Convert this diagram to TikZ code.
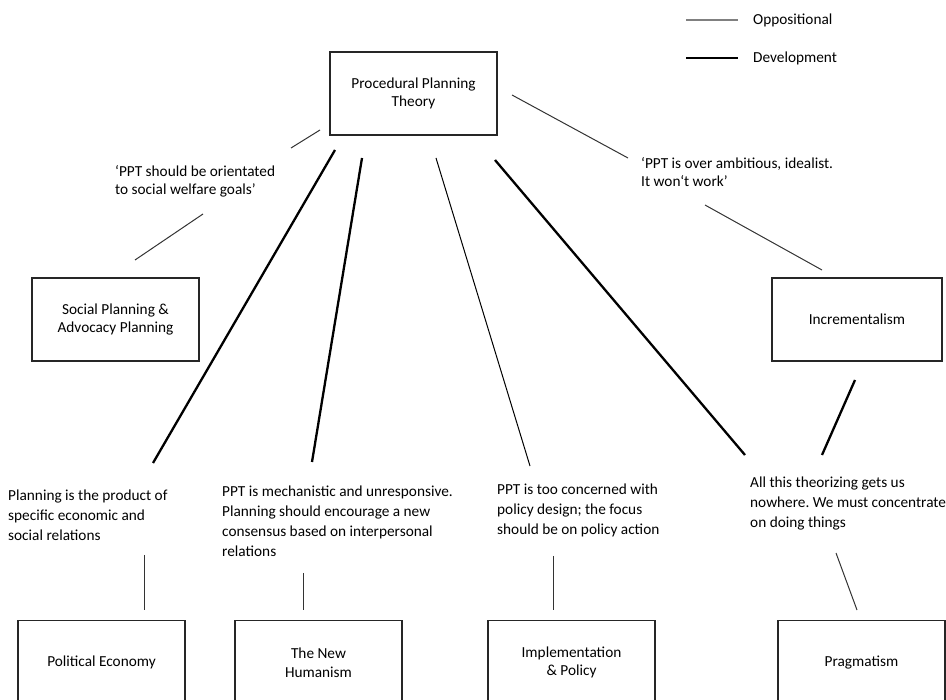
\documentclass[tikz,border=0pt]{standalone}
\usepackage{fontspec}
\setmainfont{Carlito}
\frenchspacing
\begin{document}
\begin{tikzpicture}[x=1pt,y=-1pt,
  box/.style={draw=black!85,line width=1.1pt,minimum width=167pt,minimum height=83pt,align=center,inner sep=2pt,font=\fontsize{15.3}{18.5}\selectfont},
  lbl/.style={anchor=north west,align=left,inner sep=0pt,font=\fontsize{15.3}{20}\selectfont},
  dev/.style={line width=2.3pt,black},
  devthin/.style={line width=1pt,black},
  opp/.style={line width=1pt,black!80},
  leg/.style={anchor=west,inner sep=0pt,font=\fontsize{15.3}{18}\selectfont}]
\frenchspacing
\useasboundingbox (0,0) rectangle (946,700);
\clip (0,0) rectangle (946,700);
% legend
\coordinate (l1a) at (686,20); \coordinate (l1b) at (738,20);
\coordinate (l2a) at (686,58); \coordinate (l2b) at (738,58);
\draw[line width=2pt,black!50] (l1a) -- (l1b);
\draw[line width=2.6pt,black] (l2a) -- (l2b);
\node[leg] (legopp) at (753,20) {Oppositional};
\node[leg] (legdev) at (753,58) {Development};
% boxes
\node[box] (ppt) at (413.5,93.5) {Procedural Planning\\Theory};
\node[box] (spap) at (115.5,319.5) {Social Planning \&\\Advocacy Planning};
\node[box,minimum width=170pt] (inc) at (857,319.5) {Incrementalism};
\node[box,anchor=north,minimum height=84pt] (pe) at (101.5,620) {Political Economy};
\node[box,anchor=north,minimum height=84pt] (nh) at (318.5,620) {The New\\Humanism};
\node[box,anchor=north,minimum height=84pt] (ip) at (571.5,620) {Implementation\\\& Policy};
\node[box,anchor=north,minimum height=84pt] (pr) at (861.5,620) {Pragmatism};
% labels
\node[lbl,font=\fontsize{15.3}{18.5}\selectfont] (q1) at (115,165) {‘PPT should be orientated\\to social welfare goals’};
\node[lbl,font=\fontsize{15.3}{18.5}\selectfont] (q2) at (641,157) {‘PPT is over ambitious, idealist.\\It won‘t work’};
\node[lbl] (c1) at (8,490) {Planning is the product of\\specific economic and\\social relations};
\node[lbl] (c2) at (222,486) {PPT is mechanistic and unresponsive.\\Planning should encourage a new\\consensus based on interpersonal\\relations};
\node[lbl] (c3) at (497,484) {PPT is too concerned with\\policy design; the focus\\should be on policy action};
\node[lbl] (c4) at (750,477) {All this theorizing gets us\\nowhere. We must concentrate\\on doing things};
% connector end points
\coordinate (a1) at (320,130); \coordinate (a2) at (291,148);
\coordinate (b1) at (203,214); \coordinate (b2) at (135,260);
\coordinate (c1a) at (512,95); \coordinate (c1b) at (628,158);
\coordinate (d1) at (705,205); \coordinate (d2) at (822,270);
\coordinate (e1) at (335,150); \coordinate (e2) at (153,463);
\coordinate (f1) at (362,158); \coordinate (f2) at (312,462);
\coordinate (g1) at (436,158); \coordinate (g2) at (530,466);
\coordinate (h1) at (495,160); \coordinate (h2) at (745,455);
\coordinate (i1) at (855,380); \coordinate (i2) at (822,455);
\coordinate (j1) at (144,555); \coordinate (j2) at (144,610);
\coordinate (k1) at (303,573); \coordinate (k2) at (303,610);
\coordinate (m1) at (553,556); \coordinate (m2) at (553,610);
\coordinate (n1) at (836,553); \coordinate (n2) at (857,610);
% connectors
\draw[opp] (a1) -- (a2);
\draw[opp] (b1) -- (b2);
\draw[opp] (c1a) -- (c1b);
\draw[opp] (d1) -- (d2);
\draw[dev] (e1) -- (e2);
\draw[dev] (f1) -- (f2);
\draw[devthin] (g1) -- (g2);
\draw[dev] (h1) -- (h2);
\draw[dev] (i1) -- (i2);
\draw[opp] (j1) -- (j2);
\draw[opp] (k1) -- (k2);
\draw[opp] (m1) -- (m2);
\draw[opp] (n1) -- (n2);
\end{tikzpicture}
\end{document}
